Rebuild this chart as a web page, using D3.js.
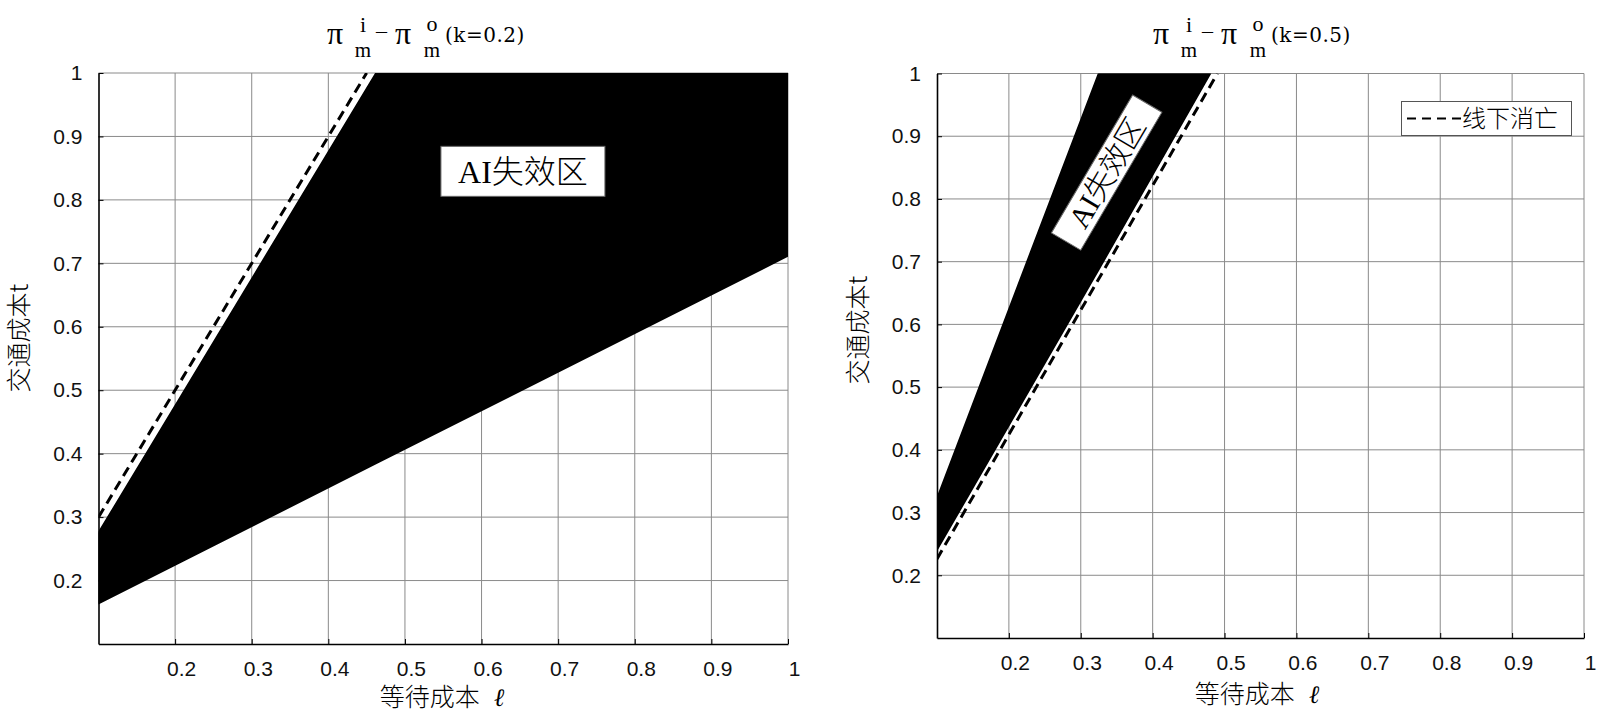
<!DOCTYPE html>
<html>
<head>
<meta charset="utf-8">
<script src="https://cdn.jsdelivr.net/npm/d3@7"></script>
<style>
  html, body { margin: 0; padding: 0; background: #fff; }
  svg { display: block; }
</style>
</head>
<body>
<div id="chart"></div>
<script>
// tick values, both axes, both panels
const ticks = [0.2, 0.3, 0.4, 0.5, 0.6, 0.7, 0.8, 0.9, 1];

// k = 0.2 : failure region between low and high boundary
const ellA = [0.1, 0.4625, 1];
const lowA = [0.164, 0.385, 0.712];
const highA = [0.275, 1, 1];
// offline-death line (dashed)
const dashEllA = [0.1, 0.45];
const dashTA = [0.30, 1];

// k = 0.5
const ellB = [0.1, 0.325, 0.48];
const lowB = [0.241, 0.688, 1];
const highB = [0.322, 1, 1];
const dashEllB = [0.1, 0.49];
const dashTB = [0.226, 1];

const kValues = ['0.2', '0.5'];
const regionLabel = 'AI失效区';
const legendLabel = '线下消亡';
const xTitle = '等待成本';
const yTitle = '交通成本t';

const width = 1600, height = 722;
const cjk = '"Noto Sans CJK SC", "Noto Sans", sans-serif';
const serif = '"Liberation Serif", "DejaVu Serif", serif';

const svg = d3.select('#chart').append('svg')
  .attr('width', width)
  .attr('height', height)
  .attr('viewBox', `0 0 ${width} ${height}`);

const panels = [
  {
    x0: 98.5, x1: 788, y0: 644, y1: 73,
    ell: ellA, low: lowA, high: highA, dEll: dashEllA, dT: dashTA,
    k: kValues[0], titleX: 327,
    xLab: [442, 697], yLab: [19, 338],
    label: { ell: 0.654, t: 0.845, angle: 0, w: 164, h: 50, size: 32 },
    legend: false
  },
  {
    x0: 937, x1: 1584, y0: 638, y1: 73.5,
    ell: ellB, low: lowB, high: highB, dEll: dashEllB, dT: dashTB,
    k: kValues[1], titleX: 1153,
    xLab: [1257, 694], yLab: [858, 330],
    label: { ell: 0.336, t: 0.842, angle: -59.5, w: 160, h: 34, size: 30 },
    legend: true
  }
];

panels.forEach((p, idx) => {
  const x = d3.scaleLinear().domain([0.1, 1]).range([p.x0, p.x1]);
  const y = d3.scaleLinear().domain([0.1, 1]).range([p.y0, p.y1]);
  const g = svg.append('g');

  const clipId = 'clip' + idx;
  g.append('clipPath').attr('id', clipId)
    .append('rect')
    .attr('x', p.x0).attr('y', p.y1)
    .attr('width', p.x1 - p.x0).attr('height', p.y0 - p.y1);

  // grid
  g.append('g').selectAll('line.v')
    .data(ticks).enter().append('line')
    .attr('x1', d => x(d)).attr('x2', d => x(d))
    .attr('y1', p.y0).attr('y2', p.y1)
    .attr('stroke', '#8a8a8a').attr('stroke-width', 1);
  g.append('g').selectAll('line.h')
    .data(ticks).enter().append('line')
    .attr('x1', p.x0).attr('x2', p.x1)
    .attr('y1', d => y(d)).attr('y2', d => y(d))
    .attr('stroke', '#8a8a8a').attr('stroke-width', 1);

  const plot = g.append('g').attr('clip-path', `url(#${clipId})`);

  // failure region
  const pts = p.ell.map((e, i) => ({ e, lo: p.low[i], hi: p.high[i] }));
  const area = d3.area()
    .x(d => x(d.e))
    .y0(d => y(d.lo))
    .y1(d => y(d.hi));
  plot.append('path')
    .datum(pts)
    .attr('d', area)
    .attr('fill', '#000')
    .attr('stroke', '#000')
    .attr('stroke-width', 2)
    .attr('stroke-linejoin', 'round');

  // dashed line
  const dashPts = p.dEll.map((e, i) => [e, p.dT[i]]);
  plot.append('path')
    .datum(dashPts)
    .attr('d', d3.line().x(d => x(d[0])).y(d => y(d[1])))
    .attr('fill', 'none')
    .attr('stroke', '#000')
    .attr('stroke-width', 3)
    .attr('stroke-dasharray', '10,6');

  // axes
  const fmt = d3.format('~g');
  const xAxis = g.append('g')
    .attr('transform', `translate(0,${p.y0})`)
    .call(d3.axisBottom(x).tickValues(ticks).tickFormat(fmt)
      .tickSizeInner(-5).tickSizeOuter(0).tickPadding(17));
  const yAxis = g.append('g')
    .attr('transform', `translate(${p.x0},0)`)
    .call(d3.axisLeft(y).tickValues(ticks).tickFormat(fmt)
      .tickSizeInner(-5).tickSizeOuter(0).tickPadding(16));
  [xAxis, yAxis].forEach(a => {
    a.select('.domain').attr('stroke', '#000').attr('stroke-width', 1.6);
    a.selectAll('.tick line').attr('stroke', '#000');
    a.selectAll('text')
      .attr('font-family', '"Liberation Sans", Arial, sans-serif')
      .attr('font-size', 21)
      .attr('fill', '#111');
  });
  xAxis.selectAll('text').attr('dx', 6);

  // region label
  const lb = p.label;
  const lg = g.append('g')
    .attr('transform', `translate(${x(lb.ell)},${y(lb.t)}) rotate(${lb.angle})`);
  lg.append('rect')
    .attr('x', -lb.w / 2).attr('y', -lb.h / 2)
    .attr('width', lb.w).attr('height', lb.h)
    .attr('fill', '#fff')
    .attr('stroke', '#666').attr('stroke-width', 1);
  lg.append('text')
    .attr('text-anchor', 'middle')
    .attr('dy', '0.36em')
    .attr('font-family', serif + ', ' + cjk)
    .attr('font-size', lb.size)
    .attr('font-weight', 300)
    .text(regionLabel);

  // legend
  if (p.legend) {
    const lgd = g.append('g');
    lgd.append('rect')
      .attr('x', 1401.5).attr('y', 101.5)
      .attr('width', 170).attr('height', 34)
      .attr('fill', '#fff').attr('stroke', '#555').attr('stroke-width', 1);
    lgd.append('line')
      .attr('x1', 1407).attr('x2', 1463)
      .attr('y1', 118.5).attr('y2', 118.5)
      .attr('stroke', '#000').attr('stroke-width', 2)
      .attr('stroke-dasharray', '9,6');
    lgd.append('text')
      .attr('x', 1462).attr('y', 118.5)
      .attr('dy', '0.36em')
      .attr('font-family', cjk)
      .attr('font-weight', 300)
      .attr('font-size', 24)
      .text(legendLabel);
  }

  // axis titles
  const xt = g.append('text')
    .attr('x', p.xLab[0]).attr('y', p.xLab[1])
    .attr('text-anchor', 'middle')
    .attr('dy', '0.36em')
    .attr('font-family', cjk)
    .attr('font-weight', 300)
    .attr('font-size', 25);
  xt.append('tspan').text(xTitle);
  xt.append('tspan').attr('dx', 14).attr('font-family', serif)
    .attr('font-style', 'italic').text('ℓ');

  g.append('text')
    .attr('transform', `translate(${p.yLab[0]},${p.yLab[1]}) rotate(-90)`)
    .attr('text-anchor', 'middle')
    .attr('dy', '0.36em')
    .attr('font-family', cjk)
    .attr('font-weight', 300)
    .attr('font-size', 25)
    .text(yTitle);

  // title: pi_m^i - pi_m^o (k=...)
  const tx = p.titleX;
  const tg = g.append('g').attr('font-family', serif).attr('fill', '#000');
  const parts = [
    { s: 'π', dx: 0, y: 44, size: 32, a: 'start' },
    { s: 'i', dx: 36, y: 32, size: 22, a: 'middle' },
    { s: 'm', dx: 36, y: 57, size: 21, a: 'middle' },
    { s: '–', dx: 49, y: 38, size: 22, a: 'start' },
    { s: 'π', dx: 68, y: 44, size: 32, a: 'start' },
    { s: 'o', dx: 105, y: 31, size: 22, a: 'middle' },
    { s: 'm', dx: 105, y: 57, size: 21, a: 'middle' }
  ];
  parts.forEach(d => {
    tg.append('text')
      .attr('x', tx + d.dx).attr('y', d.y)
      .attr('text-anchor', d.a)
      .attr('font-size', d.size)
      .text(d.s);
  });
  tg.append('text')
    .attr('x', tx + 118).attr('y', 42)
    .attr('font-family', '"DejaVu Serif", serif')
    .attr('font-size', 20)
    .attr('letter-spacing', 0.5)
    .text(`(k=${p.k})`);
});
</script>
</body>
</html>
